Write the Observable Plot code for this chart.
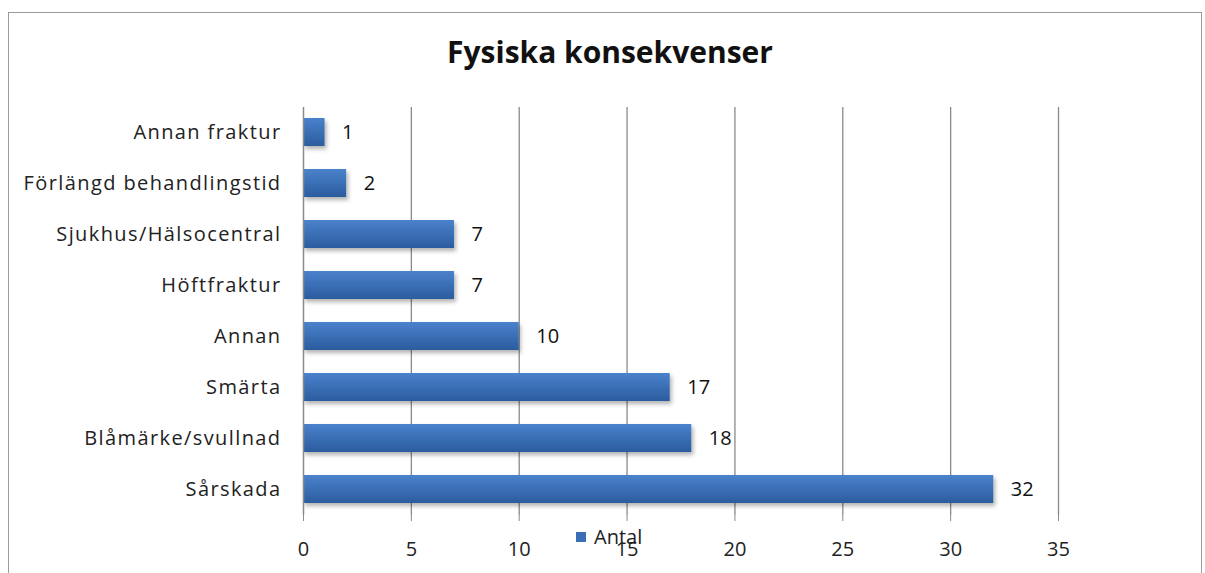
<!DOCTYPE html>
<html>
<head>
<meta charset="utf-8">
<script src="https://cdn.jsdelivr.net/npm/d3@7"></script>
<script src="https://cdn.jsdelivr.net/npm/@observablehq/plot@0.6"></script>
<style>
  html, body { margin: 0; padding: 0; background: #fff; }
  #wrap { position: relative; width: 1205px; height: 573px; overflow: hidden; font-family: "Open Sans", sans-serif; }
  #frame { position: absolute; left: 8px; top: 12px; width: 1194px; height: 620px; border: 1.5px solid #9a9a9a; box-sizing: border-box; }
  #title { position: absolute; left: 0; width: 1220px; top: 31px; text-align: center; font-weight: bold; font-size: 30px; color: #111; }
  #legend { position: absolute; left: 576px; top: 523px; font-size: 20px; color: #222; display: flex; align-items: center; }
  #legend span.sw { display: inline-block; width: 10px; height: 10px; background: #3a6fb8; margin-right: 8px; }
  #chart { position: absolute; left: 0; top: 0; }
</style>
</head>
<body>
<div id="wrap">
  <div id="frame"></div>
  <div id="chart"></div>
  <div id="title">Fysiska konsekvenser</div>
  <div id="legend"><span class="sw"></span><span>Antal</span></div>
</div>
<script>
const categories = ["Annan fraktur", "Förlängd behandlingstid", "Sjukhus/Hälsocentral", "Höftfraktur", "Annan", "Smärta", "Blåmärke/svullnad", "Sårskada"];
const values = [1, 2, 7, 7, 10, 17, 18, 32];
const xTicks = [0, 5, 10, 15, 20, 25, 30, 35];

const data = categories.map((c, i) => ({category: c, value: values[i]}));

const plot = Plot.plot({
  width: 1205,
  height: 573,
  marginLeft: 303,
  marginRight: 147,
  marginTop: 107,
  marginBottom: 58,
  style: {fontFamily: "'Open Sans', sans-serif", fontSize: "19px", color: "#222", background: "transparent"},
  x: {domain: [0, 35], ticks: xTicks, label: null},
  y: {domain: categories, label: null, paddingInner: 0.45, paddingOuter: 0.225},
  marks: [
    Plot.gridX(xTicks.slice(1), {stroke: "#8a8a8a", strokeOpacity: 1, strokeWidth: 1.3}),
    Plot.barX(data, {y: "category", x: "value", fill: "url(#barGrad)", className: "bars"}),
    Plot.ruleX([0], {stroke: "#8a8a8a", strokeWidth: 1.5}),
    Plot.text(data, {y: "category", x: "value", text: d => String(d.value), textAnchor: "start", dx: 17, fontSize: 20, fill: "#111"}),
    Plot.axisX({ticks: xTicks, tickSize: 6, tickPadding: 20, stroke: "#8a8a8a", fontSize: 20, label: null}),
    Plot.axisY({tickSize: 0, tickPadding: 22, fontSize: 20, label: null})
  ]
});

const ns = "http://www.w3.org/2000/svg";
const defs = document.createElementNS(ns, "defs");
defs.innerHTML = `
  <linearGradient id="barGrad" x1="0" y1="0" x2="0" y2="1">
    <stop offset="0" stop-color="#4a82cc"/>
    <stop offset="1" stop-color="#2b5c9e"/>
  </linearGradient>
  <filter id="shadow" x="-5%" y="-20%" width="115%" height="160%">
    <feDropShadow dx="2" dy="3" stdDeviation="2" flood-color="#000" flood-opacity="0.3"/>
  </filter>`;
plot.insertBefore(defs, plot.firstChild);
plot.querySelectorAll("g.bars").forEach(g => g.setAttribute("filter", "url(#shadow)"));
plot.querySelectorAll('g[aria-label="y-axis tick label"] text').forEach(t => t.setAttribute("letter-spacing", "1.4"));
document.getElementById("chart").appendChild(plot);
</script>
</body>
</html>
